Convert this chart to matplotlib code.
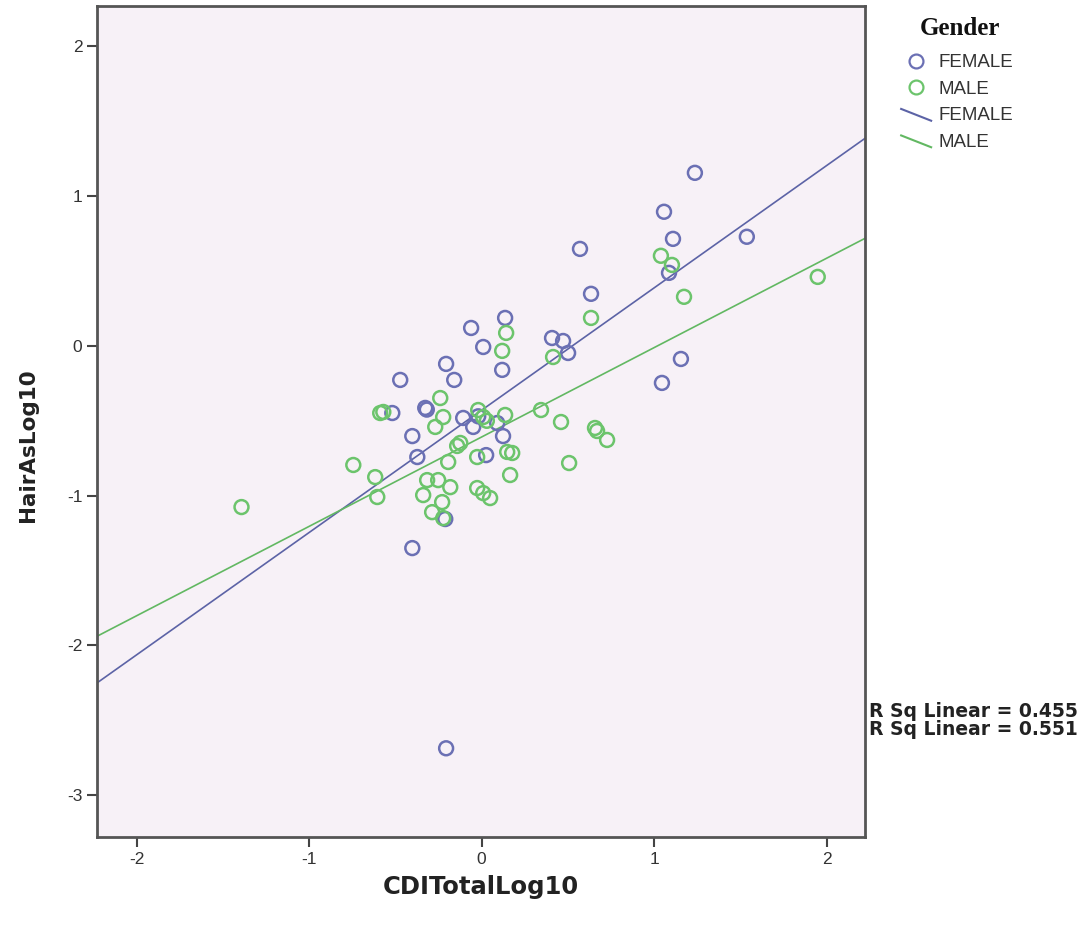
import numpy as np
import matplotlib
matplotlib.use('Agg')
import matplotlib.pyplot as plt
from matplotlib.lines import Line2D
from matplotlib.legend_handler import HandlerLine2D

plt.rcParams['axes.unicode_minus'] = False

# CDITotalLog10 / HairAsLog10 pairs by gender
female_x = [1.236, 1.057, 1.109, 1.537, 0.570, 1.086, 0.634, 0.136, -0.061, 0.408,
            0.472, 0.501, 0.009, 1.155, 1.045, 0.119, -0.206, -0.159, -0.472, -0.327,
            -0.318, -0.518, -0.107, -0.049, 0.090, -0.402, 0.124, -0.373, 0.026, -0.211,
            -0.402, -0.206, -0.020]
female_y = [1.156, 0.896, 0.715, 0.729, 0.648, 0.488, 0.348, 0.187, 0.120, 0.053,
            0.033, -0.047, -0.007, -0.087, -0.247, -0.160, -0.120, -0.227, -0.227, -0.414,
            -0.425, -0.448, -0.481, -0.541, -0.515, -0.602, -0.602, -0.742, -0.729, -1.156,
            -1.350, -2.687, -0.470]
male_x = [1.039, 1.103, 1.173, 1.948, 0.634, 0.142, 0.119, 0.414, 0.344, 0.460,
          0.657, 0.669, 0.727, 0.507, -0.240, -0.570, -0.223, -0.269, -0.020, 0.009,
          0.136, -0.124, -0.142, -0.194, -0.026, 0.177, 0.148, 0.165, -0.316, -0.252,
          -0.182, -0.339, -0.026, 0.009, 0.049, -0.229, -0.287, -0.223, -0.588, -0.744,
          -0.617, -0.605, -1.392, 0.030]
male_y = [0.602, 0.541, 0.328, 0.461, 0.187, 0.087, -0.033, -0.074, -0.428, -0.508,
          -0.548, -0.568, -0.628, -0.782, -0.348, -0.441, -0.475, -0.541, -0.428, -0.475,
          -0.461, -0.648, -0.668, -0.775, -0.742, -0.715, -0.708, -0.862, -0.896, -0.896,
          -0.943, -0.996, -0.949, -0.983, -1.016, -1.043, -1.110, -1.150, -0.448, -0.795,
          -0.876, -1.009, -1.076, -0.500]

# linear fit lines (slope, intercept)
female_fit = [0.817, -0.429]
male_fit = [0.597, -0.608]
r_sq = [0.455, 0.551]

blue = '#6b70b4'
green = '#6cc46c'
blue_line = '#5c63a6'
green_line = '#62b862'


class SlantedLine(HandlerLine2D):
    # short slanted stroke for the fit-line legend keys
    def create_artists(self, legend, orig_handle, xdescent, ydescent, width, height, fontsize, trans):
        line = Line2D([-xdescent, -xdescent + width], [height * 0.85, -0.05 * height],
                      color=orig_handle.get_color(), lw=orig_handle.get_linewidth())
        line.set_transform(trans)
        return [line]


fig = plt.figure(figsize=(10.89, 9.27), dpi=100)
ax = fig.add_axes([0.089, 0.097, 0.705, 0.8965])
ax.set_facecolor('#f7f1f7')

ax.scatter(female_x, female_y, s=100, facecolors='none', edgecolors=blue, linewidths=1.8, zorder=3)
ax.scatter(male_x, male_y, s=100, facecolors='none', edgecolors=green, linewidths=1.8, zorder=3)

xlim = (-2.23, 2.22)
xs = np.array(xlim)
ax.plot(xs, female_fit[0] * xs + female_fit[1], color=blue_line, lw=1.2, zorder=2)
ax.plot(xs, male_fit[0] * xs + male_fit[1], color=green_line, lw=1.2, zorder=2)

ax.set_xlim(xlim)
ax.set_ylim(-3.28, 2.27)
ax.set_xticks([-2, -1, 0, 1, 2])
ax.set_yticks([-3, -2, -1, 0, 1, 2])
ax.tick_params(direction='out', length=7, width=1.5, color='#444444',
               labelsize=12.5, labelcolor='#333333')
for lab in ax.get_xticklabels() + ax.get_yticklabels():
    lab.set_family('Liberation Sans')
for sp in ax.spines.values():
    sp.set_color('#555555')
    sp.set_linewidth(2)

ax.set_xlabel('CDITotalLog10', fontsize=17.5, fontweight='bold', family='DejaVu Sans',
              color='#222222')
ax.set_ylabel('HairAsLog10', fontsize=15.5, fontweight='bold', family='DejaVu Sans',
              color='#222222')
ax.xaxis.set_label_coords(0.5, -0.046)
ax.yaxis.set_label_coords(-0.077, 0.472)

# legend
fig.text(0.8445, 0.969, 'Gender', fontsize=18, fontweight='bold', family='Liberation Serif',
         color='#111111', va='center')
entries = [('o', blue, 'FEMALE'), ('o', green, 'MALE'), ('-', blue_line, 'FEMALE'), ('-', green_line, 'MALE')]
handles = []
handler_map = {}
for kind, col, name in entries:
    if kind == 'o':
        handles.append(Line2D([], [], ls='none', marker='o', ms=10, mfc='none', mec=col, mew=1.6, label=name))
    else:
        h = Line2D([], [], color=col, lw=1.5, label=name)
        handles.append(h)
        handler_map[h] = SlantedLine()
leg = fig.legend(handles=handles, handler_map=handler_map, loc='upper left',
                 bbox_to_anchor=(0.812, 0.96), frameon=False,
                 handlelength=1.6, handletextpad=0.4, labelspacing=0.5,
                 prop={'family': 'Liberation Sans', 'size': 13.5})
for t in leg.get_texts():
    t.set_color('#333333')

fig.text(0.798, 0.232, 'R Sq Linear = %.3f' % r_sq[0], fontsize=13.5, fontweight='bold',
         family='DejaVu Sans', color='#222222', va='center')
fig.text(0.798, 0.213, 'R Sq Linear = %.3f' % r_sq[1], fontsize=13.5, fontweight='bold',
         family='DejaVu Sans', color='#222222', va='center')

fig.savefig('out.png', dpi=100)
